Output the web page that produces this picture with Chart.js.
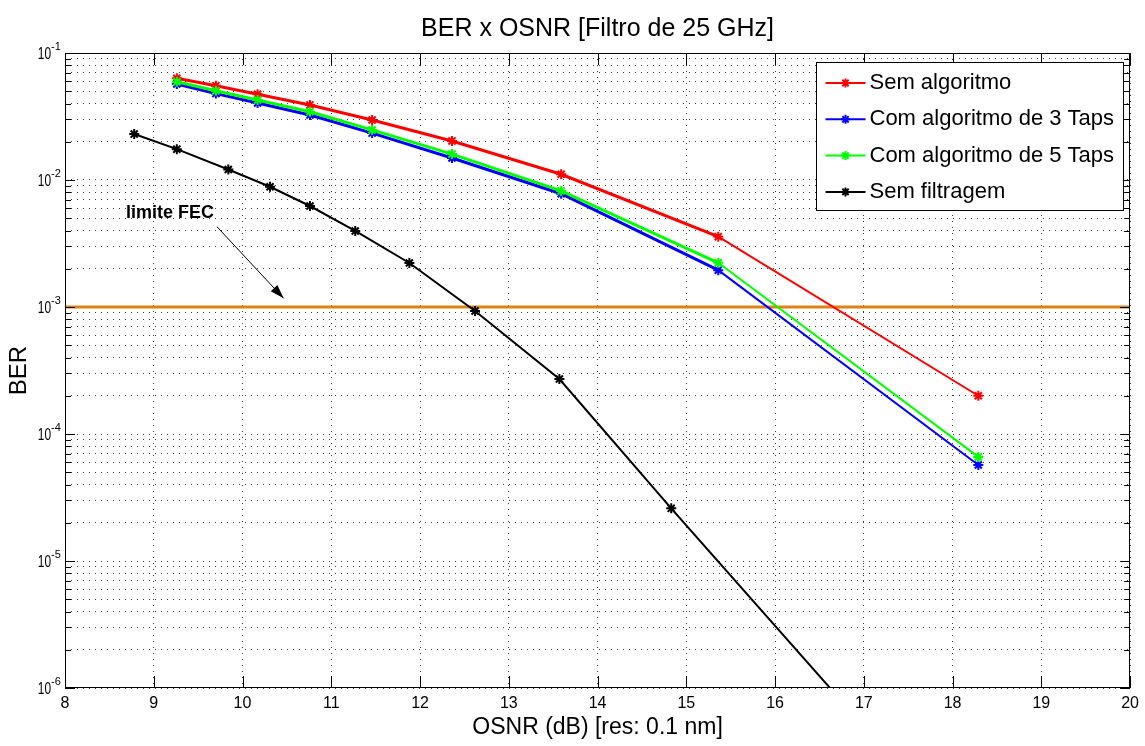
<!DOCTYPE html>
<html>
<head>
<meta charset="utf-8">
<title>BER x OSNR</title>
<script src="https://cdn.jsdelivr.net/npm/chart.js@4"></script>
<style>
  html, body { margin: 0; padding: 0; background: #fff; }
  #wrap { width: 1145px; height: 746px; }
</style>
</head>
<body>
<div id="wrap"><canvas id="berChart" width="1145" height="746"></canvas></div>
<script>
// series names (legend order)
const seriesNames = ['Sem algoritmo', 'Com algoritmo de 3 Taps', 'Com algoritmo de 5 Taps', 'Sem filtragem'];

// OSNR values (dB)
const osnrFiltro = [9.26, 9.70, 10.17, 10.76, 11.46, 12.36, 13.59, 15.36, 18.29];
const osnrSemFiltro = [8.78, 9.26, 9.84, 10.31, 10.76, 11.27, 11.88, 12.62, 13.57, 14.83, 16.9];

// BER values
const berSemAlg = [0.0632, 0.0553, 0.0473, 0.0390, 0.0297, 0.0203, 0.0111, 0.00358, 0.000200];
const ber3Taps  = [0.0570, 0.0479, 0.0404, 0.0325, 0.0234, 0.0149, 0.0078, 0.00195, 0.000057];
const ber5Taps  = [0.0594, 0.0505, 0.0426, 0.0345, 0.0248, 0.0160, 0.0082, 0.00223, 0.000066];
const berSemFiltro = [0.0230, 0.0175, 0.0121, 0.00885, 0.00624, 0.00397, 0.00222, 0.00093, 0.000271, 0.000026, 0.0000006];

// FEC limit line
const fecLimit = 1e-3;
const fecLabel = 'limite FEC';

// axes
const xRange = [8, 20];
const yExponents = [-6, -5, -4, -3, -2, -1];
const yMantissas = [1, 2, 3, 4, 5, 6, 7, 8, 9];

const colors = ['#ff0000', '#0000ff', '#00ff00', '#000000'];
const fecColor = '#de8214';
const fontMain = '"Liberation Sans", Arial, sans-serif';
const gridColor = '#3a3a3a';

function toPoints(xs, ys) {
  return xs.map((v, i) => ({ x: v, y: ys[i] }));
}

function drawStar(ctx, cx, cy, r) {
  ctx.beginPath();
  for (let k = 0; k < 4; k++) {
    const ang = k * Math.PI / 4;
    ctx.moveTo(cx - r * Math.cos(ang), cy - r * Math.sin(ang));
    ctx.lineTo(cx + r * Math.cos(ang), cy + r * Math.sin(ang));
  }
  ctx.stroke();
}

// thinner line after the 15.36 dB point, like the original
const thinTail = ctx => ctx.p1.parsed.x > 15.5 ? 2 : 3;

const datasets = [
  { label: seriesNames[0], data: toPoints(osnrFiltro, berSemAlg), order: 4 },
  { label: seriesNames[1], data: toPoints(osnrFiltro, ber3Taps), order: 3 },
  { label: seriesNames[2], data: toPoints(osnrFiltro, ber5Taps), order: 2 },
  { label: seriesNames[3], data: toPoints(osnrSemFiltro, berSemFiltro), order: 1 }
].map((d, i) => Object.assign(d, {
  borderColor: colors[i],
  backgroundColor: colors[i],
  borderWidth: i < 3 ? 3 : 2,
  segment: i < 3 ? { borderWidth: thinTail } : undefined,
  pointStyle: 'star',
  pointRadius: 5,
  pointBorderWidth: 2,
  pointBorderColor: colors[i],
  tension: 0
}));

datasets.push({
  label: fecLabel,
  data: [{ x: xRange[0], y: fecLimit }, { x: xRange[1], y: fecLimit }],
  borderColor: fecColor,
  borderWidth: 3,
  pointRadius: 0,
  order: 5
});

const extras = {
  id: 'berExtras',
  afterDatasetsDraw(chart) {
    const { ctx, chartArea: a, scales: { x, y } } = chart;
    ctx.save();
    ctx.strokeStyle = '#000';
    ctx.lineWidth = 1;
    ctx.beginPath();
    x.ticks.forEach(t => {
      const px = Math.round(x.getPixelForValue(t.value)) + 0.5;
      ctx.moveTo(px, a.bottom); ctx.lineTo(px, a.bottom - 12);
      ctx.moveTo(px, a.top); ctx.lineTo(px, a.top + 12);
    });
    y.ticks.forEach(t => {
      const py = Math.round(y.getPixelForValue(t.value)) + 0.5;
      const lg = Math.log10(t.value);
      const len = Math.abs(lg - Math.round(lg)) < 1e-6 ? 10 : 6;
      ctx.moveTo(a.left, py); ctx.lineTo(a.left + len, py);
      ctx.moveTo(a.right, py); ctx.lineTo(a.right - len, py);
    });
    ctx.stroke();
    ctx.strokeRect(Math.round(a.left) + 0.5, Math.round(a.top) + 0.5, Math.round(a.width) - 1, Math.round(a.height) - 1);
    ctx.restore();
  },
  afterDraw(chart) {
    const { ctx, chartArea: a, scales: { x, y } } = chart;
    ctx.save();
    ctx.fillStyle = '#000';

    // y tick labels 10^n
    yExponents.forEach(e => {
      const py = y.getPixelForValue(Math.pow(10, e));
      ctx.save();
      ctx.font = '17px ' + fontMain;
      ctx.textAlign = 'right';
      ctx.textBaseline = 'alphabetic';
      ctx.translate(a.left - 14, py + 6);
      ctx.scale(0.7, 1);
      ctx.fillText('10', 0, 0);
      ctx.restore();
      ctx.font = '11px ' + fontMain;
      ctx.textAlign = 'left';
      ctx.fillText(String(e), a.left - 14, py - 3);
    });

    // FEC annotation
    ctx.font = 'bold 18px ' + fontMain;
    ctx.textAlign = 'left';
    ctx.textBaseline = 'middle';
    ctx.fillText(fecLabel, x.getPixelForValue(8.686), y.getPixelForValue(0.00553));
    const x0 = x.getPixelForValue(9.713), y0 = y.getPixelForValue(0.00428);
    const x1 = x.getPixelForValue(10.463), y1 = y.getPixelForValue(0.00117);
    ctx.strokeStyle = '#000';
    ctx.lineWidth = 1;
    ctx.beginPath();
    ctx.moveTo(x0, y0);
    ctx.lineTo(x1, y1);
    ctx.stroke();
    const ang = Math.atan2(y1 - y0, x1 - x0);
    ctx.beginPath();
    ctx.moveTo(x1, y1);
    ctx.lineTo(x1 - 14 * Math.cos(ang) + 4.5 * Math.sin(ang), y1 - 14 * Math.sin(ang) - 4.5 * Math.cos(ang));
    ctx.lineTo(x1 - 14 * Math.cos(ang) - 4.5 * Math.sin(ang), y1 - 14 * Math.sin(ang) + 4.5 * Math.cos(ang));
    ctx.closePath();
    ctx.fill();

    // legend box
    const lx = Math.round(a.right) - 313.5, ly = Math.round(a.top) + 9.5;
    const lw = 307, lh = 148;
    ctx.fillStyle = '#fff';
    ctx.fillRect(lx, ly, lw, lh);
    ctx.strokeStyle = '#000';
    ctx.strokeRect(lx, ly, lw, lh);
    ctx.font = '22px ' + fontMain;
    ctx.textBaseline = 'middle';
    seriesNames.forEach((name, i) => {
      const ry = ly + 20.5 + i * 36.3;
      ctx.strokeStyle = colors[i];
      ctx.lineWidth = 2;
      ctx.beginPath();
      ctx.moveTo(lx + 9, ry);
      ctx.lineTo(lx + 49, ry);
      ctx.stroke();
      drawStar(ctx, lx + 29, ry, 4.5);
      ctx.fillStyle = '#000';
      ctx.fillText(name, lx + 53, ry);
    });
    ctx.restore();
  }
};

const ctx = document.getElementById('berChart');

new Chart(ctx, {
  type: 'line',
  data: { datasets: datasets },
  options: {
    responsive: false,
    devicePixelRatio: 1,
    animation: false,
    layout: { padding: { left: 0, right: 13, top: 0, bottom: 0 } },
    plugins: {
      legend: { display: false },
      tooltip: { enabled: false },
      title: {
        display: true,
        fullSize: false,
        text: 'BER x OSNR [Filtro de 25 GHz]',
        color: '#000',
        font: { family: fontMain, size: 25, weight: 'normal' },
        padding: { top: 14, bottom: 9 }
      }
    },
    scales: {
      x: {
        type: 'linear',
        min: xRange[0],
        max: xRange[1],
        afterFit: s => { s.height = 58; },
        ticks: {
          stepSize: 1,
          autoSkip: false,
          maxRotation: 0,
          padding: 6,
          color: '#000',
          font: { family: fontMain, size: 16 }
        },
        grid: { color: gridColor, lineWidth: 1, drawTicks: false, borderDash: [1, 5] },
        border: { display: false, dash: [1, 5] },
        title: {
          display: true,
          text: 'OSNR (dB) [res: 0.1 nm]',
          color: '#000',
          font: { family: fontMain, size: 23 },
          padding: { top: 0, bottom: 5 }
        }
      },
      y: {
        type: 'logarithmic',
        min: Math.pow(10, yExponents[0]),
        max: Math.pow(10, yExponents[yExponents.length - 1]),
        afterFit: s => { s.width = 65; },
        afterBuildTicks: s => {
          const list = [];
          yExponents.forEach(e => {
            yMantissas.forEach(m => {
              const v = Number((m * Math.pow(10, e)).toPrecision(3));
              if (v <= s.max * 1.0001) list.push({ value: v });
            });
          });
          s.ticks = list;
        },
        ticks: { display: false, callback: () => '' },
        grid: { color: gridColor, lineWidth: 1, drawTicks: false, borderDash: [1, 5] },
        border: { display: false, dash: [1, 5] },
        title: {
          display: true,
          text: 'BER',
          color: '#000',
          font: { family: fontMain, size: 24 },
          padding: { top: 5, bottom: 0 }
        }
      }
    }
  },
  plugins: [extras]
});
</script>
</body>
</html>
